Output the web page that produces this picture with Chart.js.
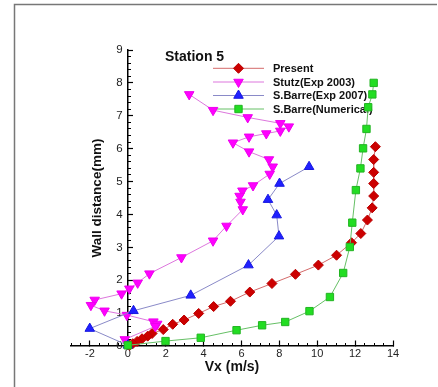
<!DOCTYPE html>
<html>
<head>
<meta charset="utf-8">
<script src="https://cdn.jsdelivr.net/npm/chart.js@4/dist/chart.umd.min.js"></script>
<style>
  body { margin: 0; background: #fff; overflow: hidden; }
  canvas { display: block; }
</style>
</head>
<body>
<canvas id="myChart" width="438" height="387"></canvas>
<script>
// Подписи и данные
const chartTitle = 'Station 5';
const xTitle = 'Vx (m/s)';
const yTitle = 'Wall distance(mm)';
const seriesNames = ['Present', 'Stutz(Exp 2003)', 'S.Barre(Exp 2007)', 'S.Barre(Numerical)'];
const xTickLabels = [-2, 0, 2, 4, 6, 8, 10, 12, 14];
const yTickLabels = [0, 1, 2, 3, 4, 5, 6, 7, 8, 9];

const presentX = [13.07, 12.98, 12.98, 12.98, 12.98, 12.9, 12.65, 12.3, 11.81, 11.02, 10.06, 8.85, 7.61, 6.44, 5.42, 4.53, 3.74, 2.97, 2.37, 1.87, 1.28, 1.05, 0.75, 0.49, 0.26, 0.09];
const presentY = [6.06, 5.67, 5.28, 4.94, 4.56, 4.2, 3.83, 3.42, 3.14, 2.76, 2.46, 2.18, 1.9, 1.64, 1.36, 1.2, 0.99, 0.79, 0.66, 0.5, 0.38, 0.3, 0.22, 0.14, 0.07, 0.02];

const stutzX = [3.24, 4.5, 6.33, 8.05, 8.5, 8.05, 7.31, 6.4, 5.55, 6.4, 7.45, 7.65, 7.49, 6.61, 6.05, 5.9, 5.95, 6.07, 5.21, 4.5, 2.83, 1.14, 0.52, 0.08, -0.33, -1.75, -1.95, -1.23, -0.05, 1.35, 1.55, 1.45, -0.16];
const stutzY = [7.65, 7.17, 6.95, 6.77, 6.67, 6.54, 6.46, 6.36, 6.18, 5.91, 5.67, 5.45, 5.23, 4.88, 4.72, 4.56, 4.38, 4.15, 3.65, 3.2, 2.69, 2.2, 1.92, 1.74, 1.59, 1.4, 1.24, 1.07, 0.94, 0.74, 0.67, 0.6, 0.2];

const barreExpX = [9.57, 8.01, 7.4, 7.86, 7.98, 6.37, 3.32, 0.3, -2.01, 0];
const barreExpY = [5.45, 4.94, 4.45, 3.98, 3.34, 2.46, 1.54, 1.07, 0.53, 0.02];

const barreNumX = [12.98, 12.91, 12.69, 12.6, 12.42, 12.28, 12.04, 11.85, 11.72, 11.37, 10.67, 9.59, 8.31, 7.09, 5.74, 3.85, 1.99, 0];
const barreNumY = [8.0, 7.65, 7.26, 6.6, 6.01, 5.4, 4.74, 3.75, 3.01, 2.22, 1.49, 1.06, 0.73, 0.63, 0.48, 0.25, 0.15, 0.02];

const FONT = '"Liberation Sans", Arial, sans-serif';

function toPoints(xs, ys) {
  return xs.map((x, i) => ({ x: x, y: ys[i] }));
}

function makeSet(label, xs, ys, style, fill, stroke, line, radius, rotation, order) {
  return {
    label: label,
    data: toPoints(xs, ys),
    showLine: true,
    borderColor: line,
    borderWidth: 1,
    backgroundColor: fill,
    pointStyle: style,
    pointRotation: rotation,
    pointRadius: radius,
    pointHoverRadius: radius,
    pointBackgroundColor: fill,
    pointBorderColor: stroke,
    pointBorderWidth: 1,
    clip: false,
    order: order
  };
}

const datasets = [
  makeSet(seriesNames[0], presentX, presentY, 'rectRot', '#cc0000', '#bb0000', '#d46a6a', 5, 0, 3),
  makeSet(seriesNames[1], stutzX, stutzY, 'triangle', '#ff00ff', '#ee00ee', '#dd77dd', 5.5, 180, 2),
  makeSet(seriesNames[2], barreExpX, barreExpY, 'triangle', '#2020ff', '#1818e0', '#8a8ac8', 5.5, 0, 1),
  makeSet(seriesNames[3], barreNumX, barreNumY, 'rect', '#22dd22', '#22b422', '#66c066', 5.2, 0, 0)
];

// Рамка, заголовок, подпись оси Y и легенда
const decorPlugin = {
  id: 'decor',
  beforeDraw(chart) {
    const ctx = chart.ctx;
    ctx.save();
    ctx.fillStyle = '#fff';
    ctx.fillRect(0, 0, chart.width, chart.height);
    ctx.strokeStyle = '#777';
    ctx.lineWidth = 1.5;
    ctx.beginPath();
    ctx.moveTo(14.5, chart.height);
    ctx.lineTo(14.5, 4.5);
    ctx.lineTo(437, 4.5);
    ctx.stroke();
    ctx.restore();
  },
  beforeDatasetsDraw(chart) {
    const ctx = chart.ctx;
    ctx.save();
    ctx.fillStyle = '#111';
    ctx.font = 'bold 14px ' + FONT;
    ctx.textAlign = 'left';
    ctx.textBaseline = 'middle';
    ctx.fillText(chartTitle, 165, 57);

    // подпись оси Y
    ctx.translate(97.5, 198);
    ctx.rotate(-Math.PI / 2);
    ctx.font = 'bold 13.5px ' + FONT;
    ctx.textAlign = 'center';
    ctx.fillText(yTitle, 0, 0);
    ctx.restore();

    // легенда
    ctx.save();
    const rows = [68.3, 82, 95.5, 109];
    chart.data.datasets.forEach((ds, i) => {
      const y = rows[i];
      ctx.strokeStyle = ds.borderColor;
      ctx.lineWidth = 1;
      ctx.beginPath();
      ctx.moveTo(213, y);
      ctx.lineTo(264, y);
      ctx.stroke();
      ctx.fillStyle = ds.pointBackgroundColor;
      ctx.strokeStyle = ds.pointBorderColor;
      Chart.helpers.drawPoint(ctx, {
        pointStyle: ds.pointStyle,
        rotation: ds.pointRotation,
        radius: ds.pointRadius,
        borderWidth: 1
      }, 238.5, y);
      ctx.fillStyle = '#111';
      ctx.font = 'bold 11px ' + FONT;
      ctx.textAlign = 'left';
      ctx.textBaseline = 'middle';
      ctx.fillText(ds.label, 273, y + 0.5);
    });
    ctx.restore();
  }
};

const majorTick = -6;
const minorTick = -3;

const config = {
  type: 'scatter',
  data: { datasets: datasets },
  options: {
    responsive: false,
    animation: false,
    layout: { padding: { left: 71, right: 45, top: 50, bottom: 41 } },
    plugins: {
      legend: { display: false },
      tooltip: { enabled: false }
    },
    scales: {
      x: {
        type: 'linear',
        min: -3, max: 14,
        position: { y: 0 },
        border: { display: true, color: '#000', width: 1.5 },
        grid: {
          drawOnChartArea: false, drawTicks: true, tickLength: majorTick, tickWidth: 1.2,
          tickColor: c => xTickLabels.includes(c.tick && c.tick.value) ? '#000' : 'rgba(0,0,0,0)'
        },
        ticks: {
          stepSize: 1, autoSkip: false, maxRotation: 0, padding: 7,
          color: '#222', font: { family: FONT, size: 11 },
          callback: v => xTickLabels.includes(v) ? String(v) : ''
        },
        title: {
          display: true, text: xTitle, color: '#111',
          font: { family: FONT, size: 14, weight: 'bold' }, padding: { top: -8, bottom: 0 }
        }
      },
      xMinor: {
        type: 'linear', axis: 'x',
        min: -3, max: 14,
        position: { y: 0 },
        border: { display: false },
        grid: { drawOnChartArea: false, drawTicks: true, tickLength: minorTick, tickWidth: 1, tickColor: '#000' },
        ticks: { stepSize: 0.5, display: false }
      },
      y: {
        type: 'linear',
        min: 0, max: 9,
        position: { x: 0 },
        border: { display: true, color: '#000', width: 1.5 },
        grid: { drawOnChartArea: false, drawTicks: true, tickLength: majorTick, tickWidth: 1.2, tickColor: '#000' },
        ticks: { stepSize: 1, display: false }
      },
      yLabels: {
        type: 'linear', axis: 'y',
        min: 0, max: 9,
        position: { x: -0.27 },
        border: { display: false },
        grid: { display: false, drawOnChartArea: false, drawTicks: false },
        ticks: {
          stepSize: 1, autoSkip: false, padding: 0,
          color: '#222', font: { family: FONT, size: 11.5 },
          callback: v => yTickLabels.includes(v) ? String(v) : ''
        }
      },
      yMinor: {
        type: 'linear', axis: 'y',
        min: 0, max: 9,
        position: { x: 0 },
        border: { display: false },
        grid: { drawOnChartArea: false, drawTicks: true, tickLength: minorTick, tickWidth: 1, tickColor: '#000' },
        ticks: { stepSize: 0.2, display: false }
      }
    }
  },
  plugins: [decorPlugin]
};

const myChart = new Chart(document.getElementById('myChart'), config);
</script>
</body>
</html>
